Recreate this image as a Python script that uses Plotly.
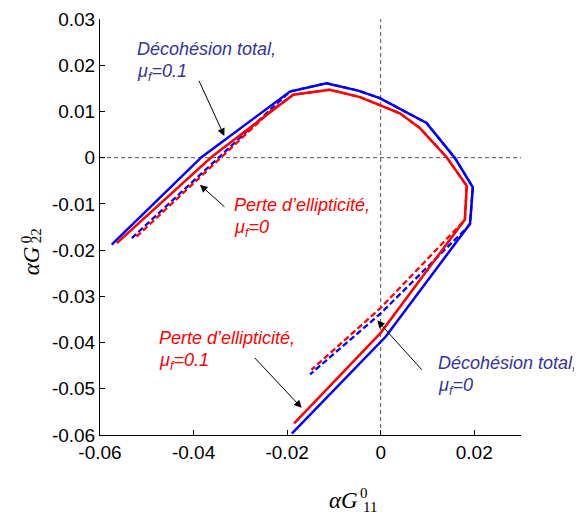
import plotly.graph_objects as go

# ---- data ----
# Décohésion total, mu_f = 0.1 (blue solid)
dec01_x = [-0.0575, -0.0383, -0.0194, -0.0116, -0.0048, -0.0002, 0.0098, 0.0159, 0.0197, 0.0191, 0.0011, -0.0190]
dec01_y = [-0.0188, 0.0001, 0.0143, 0.0161, 0.0145, 0.0129, 0.0075, -0.0001, -0.0064, -0.0143, -0.0387, -0.0597]
# Perte d'ellipticité, mu_f = 0.1 (red solid)
per01_x = [-0.0564, -0.0361, -0.0187, -0.0109, -0.0044, 0.0041, 0.0084, 0.0141, 0.0184, 0.0180, 0.0000, -0.0185]
per01_y = [-0.0185, 0.0002, 0.0136, 0.0147, 0.0131, 0.0096, 0.0064, 0.0001, -0.0061, -0.0134, -0.0379, -0.0575]
# Décohésion total, mu_f = 0 (blue dashed)
dec0_x = [-0.0532, -0.0223, -0.0194, -0.0116, -0.0048, -0.0002, 0.0098, 0.0159, 0.0197, 0.0191, 0.0184, 0.0000, -0.0151]
dec0_y = [-0.0174, 0.0114, 0.0143, 0.0161, 0.0145, 0.0129, 0.0075, -0.0001, -0.0064, -0.0143, -0.0152, -0.0337, -0.0469]
# Perte d'ellipticité, mu_f = 0 (red dashed)
per0_x = [-0.0522, -0.0233, -0.0187, -0.0109, -0.0044, 0.0041, 0.0084, 0.0141, 0.0184, 0.0180, 0.0173, 0.0000, -0.0148]
per0_y = [-0.0171, 0.0103, 0.0136, 0.0147, 0.0131, 0.0096, 0.0064, 0.0001, -0.0061, -0.0134, -0.0142, -0.0325, -0.0459]

x_ticks = [-0.06, -0.04, -0.02, 0, 0.02]
x_ticklabels = ["-0.06", "-0.04", "-0.02", "0", "0.02"]
y_ticks = [-0.06, -0.05, -0.04, -0.03, -0.02, -0.01, 0, 0.01, 0.02, 0.03]
y_ticklabels = ["-0.06", "-0.05", "-0.04", "-0.03", "-0.02", "-0.01", "0", "0.01", "0.02", "0.03"]

BLUE = "#0000ff"
RED = "#ff0000"
TXT_BLUE = "#33339a"
DASH = "6px,3px"

# plot area in page pixels (page has an 8px body margin)
PL, PT, PW, PH = 100, 19, 421, 416.5
def px(xp):
    return (xp - PL) / PW
def py(yp):
    return (PT + PH - yp) / PH

fig = go.Figure()
fig.add_trace(go.Scatter(x=dec0_x, y=dec0_y, mode="lines", line=dict(color=BLUE, width=2.3, dash=DASH), showlegend=False))
fig.add_trace(go.Scatter(x=per0_x, y=per0_y, mode="lines", line=dict(color=RED, width=2.3, dash=DASH), showlegend=False))
fig.add_trace(go.Scatter(x=per01_x, y=per01_y, mode="lines", line=dict(color=RED, width=2.5), showlegend=False))
fig.add_trace(go.Scatter(x=dec01_x, y=dec01_y, mode="lines", line=dict(color=BLUE, width=2.5), showlegend=False))

# crosshair dashed lines at 0
fig.add_shape(type="line", xref="x", yref="paper", x0=0, x1=0, y0=0, y1=1,
              line=dict(color="#555555", width=1, dash="4px,3px"), layer="below")
fig.add_shape(type="line", xref="paper", yref="y", x0=0, x1=1, y0=0, y1=0,
              line=dict(color="#555555", width=1, dash="4px,3px"), layer="below")

TFONT = dict(family="Liberation Sans, Arial, sans-serif", size=18)
labels = [
    ("<i>Décohésion total,</i>", "<i>μ<sub>f</sub>=0.1</i>", 135, 37.5, TXT_BLUE),
    ("<i>Perte d’ellipticité,</i>", "<i>μ<sub>f</sub>=0</i>", 232, 193.5, RED),
    ("<i>Perte d’ellipticité,</i>", "<i>μ<sub>f</sub>=0.1</i>", 157, 326, RED),
    ("<i>Décohésion total,</i>", "<i>μ<sub>f</sub>=0</i>", 436, 351, TXT_BLUE),
]
for l1, l2, xp, yp, col in labels:
    fig.add_annotation(text=l1, xref="paper", yref="paper", x=px(xp), y=py(yp), xanchor="left", yanchor="top",
                       align="left", showarrow=False, font=dict(TFONT, color=col))
    fig.add_annotation(text=l2, xref="paper", yref="paper", x=px(xp), y=py(yp + 22), xanchor="left", yanchor="top",
                       align="left", showarrow=False, font=dict(TFONT, color=col))

arrows = [
    (-0.03343, 0.00471, -0.03899, 0.01696),
    (-0.03863, -0.00588, -0.03307, -0.01091),
    (-0.01689, -0.05413, -0.02724, -0.04298),
    (-0.00074, -0.0352, 0.0091, -0.04622),
]
for hx, hy, tx, ty in arrows:
    fig.add_annotation(text="", x=hx, y=hy, ax=tx, ay=ty, xref="x", yref="y", axref="x", ayref="y",
                       showarrow=True, arrowhead=2, arrowsize=1.5, arrowwidth=1, arrowcolor="black", standoff=0)

# axis labels (math style)
SERIF = "Liberation Serif, Times New Roman, serif"
def mlabel(text, xp, yp, size, angle=0):
    fig.add_annotation(text=text, xref="paper", yref="paper", x=px(xp), y=py(yp), xanchor="center",
                       yanchor="middle", textangle=angle, showarrow=False,
                       font=dict(family=SERIF, size=size, color="black"))
mlabel("<i>αG</i>", 343, 501, 23)
mlabel("0", 364, 494, 15)
mlabel("11", 370, 507.5, 15)
mlabel("<i>αG</i>", 31, 261.5, 23, -90)
mlabel("0", 26, 239.5, 15, -90)
mlabel("22", 35.5, 236, 15, -90)

axis_common = dict(showline=True, linecolor="black", linewidth=1, ticks="inside", ticklen=5, tickwidth=1,
                   tickcolor="black", showgrid=False, zeroline=False, mirror=False,
                   tickfont=dict(family="Liberation Sans, Arial, sans-serif", size=19, color="black"))
fig.update_xaxes(range=[-0.06, 0.03], tickvals=x_ticks, ticktext=x_ticklabels, **axis_common)
fig.update_yaxes(range=[-0.06, 0.03], tickvals=y_ticks, ticktext=y_ticklabels, **axis_common)

# figure is 574x510 and sits at an 8px body margin in the page
fig.update_layout(width=574, height=510, margin=dict(l=PL - 8, r=574 - (PL - 8) - PW, t=PT - 8,
                                                      b=510 - (PT - 8) - PH, autoexpand=False),
                  plot_bgcolor="white", paper_bgcolor="white", showlegend=False)

fig.write_html("out.html")
